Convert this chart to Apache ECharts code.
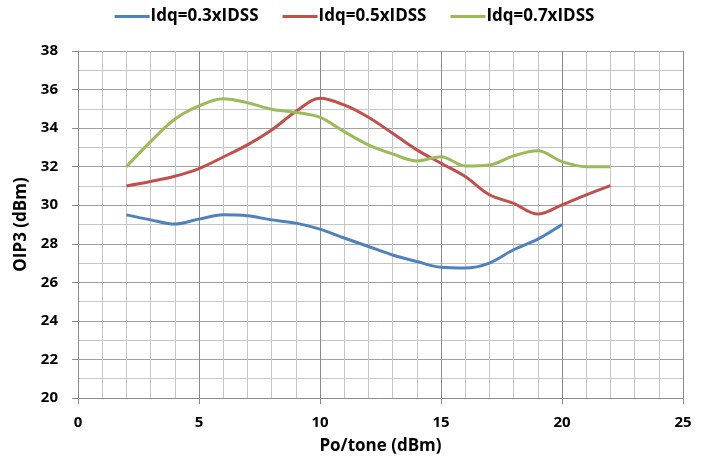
<!DOCTYPE html>
<html>
<head>
<meta charset="utf-8">
<script src="https://cdn.jsdelivr.net/npm/echarts@6/dist/echarts.min.js"></script>
<style>html,body{margin:0;padding:0;background:#fff}#c{width:709px;height:466px}</style>
</head>
<body>
<div id="c"></div>
<script>
const seriesNames = ['Idq=0.3xIDSS', 'Idq=0.5xIDSS', 'Idq=0.7xIDSS'];
const xBlue = [2,3,4,5,6,7,8,9,10,11,12,13,14,15,16,17,18,19,20];
const yBlue = [29.5,29.24,29.02,29.28,29.5,29.45,29.24,29.07,28.76,28.3,27.86,27.42,27.08,26.78,26.74,27.0,27.69,28.24,29.0];
const xRed = [2,3,4,5,6,7,8,9,10,11,12,13,14,15,16,17,18,19,20,21,22];
const yRed = [31.0,31.23,31.5,31.9,32.5,33.13,33.9,34.86,35.55,35.2,34.56,33.73,32.87,32.18,31.49,30.54,30.1,29.54,30.02,30.54,31.02];
const xGreen = [2,3,4,5,6,7,8,9,10,11,12,13,14,15,16,17,18,19,20,21,22];
const yGreen = [32.0,33.3,34.46,35.15,35.52,35.32,34.98,34.82,34.56,33.82,33.13,32.66,32.3,32.52,32.04,32.09,32.56,32.82,32.26,32.0,32.0];
const xTicks = {min: 0, max: 25, interval: 5};
const yTicks = {min: 20, max: 38, interval: 2};

const colors = ['#4F81BD', '#C0504D', '#9BBB59'];
const font = '"Open Sans", Lato, sans-serif';
function pairs(xs, ys) { return xs.map((x, i) => [x, ys[i]]); }
const chart = echarts.init(document.getElementById('c'), null, {renderer: 'canvas'});
chart.setOption({
  animation: false,
  color: colors,
  textStyle: {fontFamily: font},
  legend: {
    top: 3, left: 'center',
    itemWidth: 35, itemHeight: 3, itemGap: 24,
    icon: 'rect',
    textStyle: {fontFamily: font, fontWeight: 'bold', fontSize: 17, color: '#000', padding: [0, 0, 0, -4]},
    data: seriesNames
  },
  grid: {left: 78, right: 26, top: 51, bottom: 68},
  xAxis: {
    type: 'value', min: xTicks.min, max: xTicks.max, interval: xTicks.interval,
    name: 'Po/tone (dBm)', nameLocation: 'middle', nameGap: 40,
    nameTextStyle: {fontFamily: font, fontWeight: 'bold', fontSize: 17, color: '#000'},
    axisLine: {show: true, lineStyle: {color: '#8c8c8c', width: 1}},
    axisTick: {show: true, inside: false, length: 6, lineStyle: {color: '#8c8c8c'}},
    axisLabel: {margin: 17, fontFamily: font, fontWeight: 'bold', fontSize: 15, color: '#000'},
    splitLine: {show: true, lineStyle: {color: '#8a8a8a', width: 1}},
    minorTick: {show: false, splitNumber: 5},
    minorSplitLine: {show: true, lineStyle: {color: '#c6c6c6', width: 1}}
  },
  yAxis: {
    type: 'value', min: yTicks.min, max: yTicks.max, interval: yTicks.interval,
    name: 'OIP3 (dBm)', nameLocation: 'middle', nameGap: 48, nameRotate: 90,
    nameTextStyle: {fontFamily: font, fontWeight: 'bold', fontSize: 17, color: '#000'},
    axisLine: {show: true, lineStyle: {color: '#8c8c8c', width: 1}},
    axisTick: {show: true, inside: false, length: 6, lineStyle: {color: '#8c8c8c'}},
    axisLabel: {margin: 20, fontFamily: font, fontWeight: 'bold', fontSize: 15, color: '#000'},
    splitLine: {show: true, lineStyle: {color: '#a0a0a0', width: 1}},
    minorTick: {show: false, splitNumber: 2},
    minorSplitLine: {show: true, lineStyle: {color: '#c6c6c6', width: 1}}
  },
  series: [
    {name: seriesNames[0], type: 'line', smooth: 0.35, symbol: 'none', lineStyle: {width: 3}, data: pairs(xBlue, yBlue)},
    {name: seriesNames[1], type: 'line', smooth: 0.35, symbol: 'none', lineStyle: {width: 3}, data: pairs(xRed, yRed)},
    {name: seriesNames[2], type: 'line', smooth: 0.35, symbol: 'none', lineStyle: {width: 3}, data: pairs(xGreen, yGreen)}
  ]
});
</script>
</body>
</html>
